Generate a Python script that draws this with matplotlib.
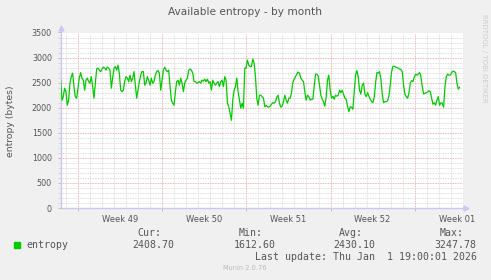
import numpy as np
import matplotlib
matplotlib.use('Agg')
import matplotlib.pyplot as plt

W, H = 491, 280

# entropy readings, one every 160 min (1/9 day)
# time axis in days from Mon 1 Dec 2025 00:00 (start of Week 49)
start_day = -1.4722
step_day = 1.0 / 9
entropy = [
    2550, 2150, 2220, 2390, 2320, 2050, 2150, 2490, 2620, 2690,
    2420, 2220, 2190, 2390, 2590, 2700, 2590, 2550, 2350, 2550,
    2590, 2520, 2490, 2620, 2420, 2190, 2490, 2770, 2790, 2750,
    2720, 2770, 2810, 2790, 2750, 2810, 2790, 2750, 2390, 2590,
    2790, 2820, 2750, 2850, 2690, 2350, 2320, 2350, 2520, 2620,
    2590, 2520, 2650, 2520, 2590, 2720, 2450, 2190, 2350, 2520,
    2650, 2720, 2720, 2450, 2490, 2620, 2550, 2450, 2590, 2490,
    2520, 2650, 2720, 2740, 2690, 2350, 2550, 2750, 2810, 2750,
    2720, 2750, 2420, 2150, 2090, 2050, 2320, 2520, 2550, 2450,
    2590, 2490, 2320, 2490, 2550, 2590, 2750, 2770, 2750, 2690,
    2520, 2520, 2490, 2500, 2520, 2490, 2550, 2530, 2570, 2520,
    2570, 2490, 2520, 2350, 2550, 2490, 2450, 2490, 2520, 2420,
    2520, 2550, 2420, 2620, 2550, 2090, 2020, 1890, 1750, 2150,
    2350, 2420, 2590, 2320, 2150, 1990, 2090, 1990, 2790, 2790,
    2950, 2850,
    2820, 2820, 2970, 2890, 2620, 2190, 2050, 2250, 2250, 2220,
    2190, 2020, 2050, 2020, 2010, 2030, 2070, 2100, 2090, 2120,
    2210, 2250, 2090, 2010, 2030, 2120, 2250, 2150, 2090, 2190,
    2190, 2290, 2500, 2570, 2620, 2670, 2710, 2690, 2590, 2550,
    2520, 2320, 2150, 2250, 2220, 2150, 2170, 2170, 2420, 2670,
    2670, 2630, 2450, 2250, 2170, 2120, 2030, 2220, 2550, 2650,
    2350, 2190, 2230, 2170, 2250, 2230, 2250, 2350, 2300, 2350,
    2270, 2190, 2170, 2030, 1920, 2020, 2010, 1970, 2320, 2650,
    2740, 2620, 2350, 2270, 2450, 2490, 2270, 2220, 2300, 2230,
    2170, 2120, 2100, 2210, 2490, 2700, 2690, 2720, 2570, 2270,
    2100, 2120, 2120, 2140, 2230, 2450, 2720, 2820, 2830, 2810,
    2800, 2790, 2770, 2760, 2720, 2450, 2270, 2220, 2190, 2290,
    2490, 2540, 2520, 2610, 2670, 2650, 2670, 2700, 2620, 2420,
    2270, 2290, 2300, 2310, 2340, 2320, 2190, 2070, 2100, 2050,
    2150, 2220, 2050, 2100, 2090, 2010, 2420, 2620, 2670, 2650,
    2650, 2700, 2730, 2720, 2700, 2490, 2370, 2408.7,
]

week_starts = [0, 7, 14, 21, 28]
week_labels = ['Week 49', 'Week 50', 'Week 51', 'Week 52', 'Week 01']
x_range = (-1.44, 32.03)
y_range = (0, 3500)

stat_names = ['Cur:', 'Min:', 'Avg:', 'Max:']
stat_values = ['2408.70', '1612.60', '2430.10', '3247.78']
last_update = 'Last update: Thu Jan  1 19:00:01 2026'

GREEN = '#00CC00'
TEXT = '#555555'
AXIS = '#C8C8F0'


def fx(x):
    return x / W


def fy(y):
    return 1 - y / H


fig = plt.figure(figsize=(W / 100, H / 100), dpi=100, facecolor='#F0F0F0')
ax = fig.add_axes([fx(61), fy(208), 402 / W, 175.5 / H])
ax.set_facecolor('white')

days = start_day + step_day * np.arange(len(entropy))
ax.plot(days, entropy, color=GREEN, lw=0.9, zorder=3)

ax.set_xlim(*x_range)
ax.set_ylim(*y_range)

# grid: red at weeks / every 500, grey at days / every 100
ax.set_xticks(week_starts)
ax.set_xticks(np.arange(-1, 33), minor=True)
ax.set_xticklabels([])
ax.set_yticks(np.arange(0, 3501, 500))
ax.set_yticks(np.arange(0, 3501, 100), minor=True)
ax.grid(which='minor', color='#D4D4D4', linestyle=(0, (1, 1)), lw=0.6)
ax.grid(which='major', color='#EE9A9A', linestyle=(0, (1, 1)), lw=0.6)
ax.set_axisbelow(True)

ax.tick_params(axis='x', which='major', length=2, color='#EE9A9A', width=0.6)
ax.tick_params(axis='x', which='minor', length=0)
ax.tick_params(axis='y', which='major', length=2, color='#EE9A9A', width=0.6,
               labelsize=5.8, labelcolor=TEXT, pad=4.5)
ax.tick_params(axis='y', which='minor', length=2, color='#D4D4D4', width=0.6)
for lab in ax.get_yticklabels():
    lab.set_fontfamily('DejaVu Sans')

for s in ['top', 'right']:
    ax.spines[s].set_visible(False)
for s in ['left', 'bottom']:
    ax.spines[s].set_color(AXIS)
    ax.spines[s].set_linewidth(1)

# axis arrow heads
ax.plot([0], [1.023], marker='^', ms=3.5, color=AXIS, transform=ax.transAxes, clip_on=False)
ax.plot([1.007], [0], marker='>', ms=3.5, color=AXIS, transform=ax.transAxes, clip_on=False)

for d, lab in zip(week_starts, week_labels):
    ax.text(d + 3.5, -0.04, lab, transform=ax.get_xaxis_transform(),
            ha='center', va='top', fontsize=6.0, color=TEXT)

fig.text(fx(245.5), fy(12), 'Available entropy - by month', ha='center', va='center',
         fontsize=7.6, color=TEXT)
fig.text(fx(11), fy(121), 'entropy (bytes)', rotation=90, ha='center', va='center',
         fontsize=6.7, color=TEXT)
fig.text(fx(484), fy(58), 'RRDTOOL / TOBI OETIKER', rotation=270, ha='center', va='center',
         fontsize=5.0, color='#CCCCCC')

# legend block
mono = 'DejaVu Sans Mono'
fig.patches.append(plt.Rectangle((fx(14), fy(247.5)), 6 / W, 6 / H, color=GREEN,
                                 transform=fig.transFigure))
fig.text(fx(26), fy(244.5), 'entropy', ha='left', va='center', fontsize=7.1,
         family=mono, color=TEXT)
for name, xr in zip(stat_names, [161.7, 262.7, 362.7, 464]):
    fig.text(fx(xr), fy(233), name, ha='right', va='center', fontsize=7.1,
             family=mono, color=TEXT)
for val, xr in zip(stat_values, [174, 275.7, 375.7, 476.7]):
    fig.text(fx(xr), fy(244.5), val, ha='right', va='center', fontsize=7.1,
             family=mono, color=TEXT)
fig.text(fx(476.7), fy(256.7), last_update, ha='right', va='center', fontsize=7.1,
         family=mono, color=TEXT)
fig.text(fx(245), fy(268.5), 'Munin 2.0.76', ha='center', va='center', fontsize=4.8,
         color='#BBBBBB')

fig.savefig('out.png', dpi=100, facecolor=fig.get_facecolor())
